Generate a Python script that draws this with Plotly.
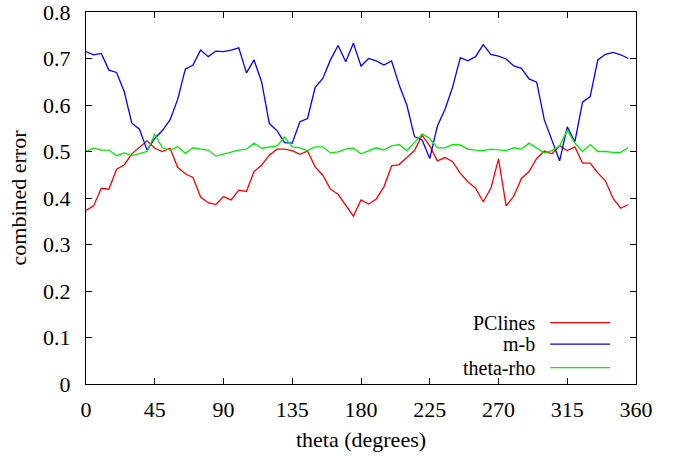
import plotly.graph_objects as go

# angle sampled every 5 degrees
theta = [0, 5, 10, 15, 20, 25, 30, 35, 40, 45, 50, 55, 60, 65, 70, 75, 80, 85,
         90, 95, 100, 105, 110, 115, 120, 125, 130, 135, 140, 145, 150, 155, 160, 165, 170, 175,
         180, 185, 190, 195, 200, 205, 210, 215, 220, 225, 230, 235, 240, 245, 250, 255, 260, 265,
         270, 275, 280, 285, 290, 295, 300, 305, 310, 315, 320, 325, 330, 335, 340, 345, 350, 355]

pclines = [0.373, 0.383, 0.421, 0.419, 0.462, 0.471, 0.495, 0.510, 0.523, 0.507, 0.500, 0.507,
           0.466, 0.452, 0.444, 0.402, 0.390, 0.386, 0.403, 0.396, 0.417, 0.414, 0.457, 0.471,
           0.492, 0.505, 0.505, 0.502, 0.494, 0.501, 0.467, 0.449, 0.419, 0.408, 0.385, 0.361,
           0.396, 0.387, 0.398, 0.424, 0.469, 0.472, 0.487, 0.502, 0.535, 0.512, 0.480, 0.487,
           0.478, 0.453, 0.435, 0.421, 0.392, 0.421, 0.484, 0.383, 0.404, 0.442, 0.457, 0.485,
           0.501, 0.495, 0.512, 0.502, 0.510, 0.475, 0.475, 0.454, 0.437, 0.399, 0.378, 0.386]

mb = [0.715, 0.708, 0.711, 0.675, 0.670, 0.629, 0.561, 0.548, 0.503, 0.528, 0.545, 0.568,
      0.612, 0.677, 0.686, 0.718, 0.704, 0.716, 0.715, 0.718, 0.723, 0.669, 0.697, 0.649,
      0.560, 0.545, 0.519, 0.518, 0.564, 0.571, 0.638, 0.657, 0.697, 0.728, 0.693, 0.733,
      0.684, 0.700, 0.695, 0.686, 0.695, 0.643, 0.600, 0.532, 0.525, 0.485, 0.555, 0.591,
      0.639, 0.702, 0.695, 0.704, 0.730, 0.709, 0.705, 0.699, 0.684, 0.679, 0.656, 0.649,
      0.568, 0.525, 0.480, 0.553, 0.521, 0.606, 0.618, 0.697, 0.709, 0.713, 0.708, 0.700]

theta_rho = [0.500, 0.507, 0.503, 0.503, 0.491, 0.497, 0.491, 0.496, 0.500, 0.537, 0.508, 0.503,
             0.510, 0.496, 0.508, 0.505, 0.503, 0.490, 0.494, 0.498, 0.503, 0.505, 0.518, 0.507,
             0.510, 0.512, 0.531, 0.510, 0.508, 0.502, 0.510, 0.510, 0.497, 0.499, 0.505, 0.507,
             0.495, 0.502, 0.508, 0.503, 0.512, 0.515, 0.502, 0.519, 0.538, 0.528, 0.508, 0.508,
             0.515, 0.514, 0.505, 0.503, 0.502, 0.505, 0.503, 0.502, 0.508, 0.505, 0.518, 0.508,
             0.497, 0.502, 0.512, 0.546, 0.518, 0.500, 0.515, 0.500, 0.500, 0.498, 0.498, 0.508]

names = ['PClines', 'm-b', 'theta-rho']
colors = ['#ff0000', '#0000ff', '#00ee00']
series = [pclines, mb, theta_rho]

xticks = [0, 45, 90, 135, 180, 225, 270, 315, 360]
yticks = [0, 0.1, 0.2, 0.3, 0.4, 0.5, 0.6, 0.7, 0.8]

font = 'Liberation Serif'

fig = go.Figure()
for name, col, vals in zip(names, colors, series):
    fig.add_trace(go.Scatter(x=theta, y=vals, mode='lines', name=name,
                             line=dict(color=col, width=1.3), showlegend=False))

# gnuplot style key: text right-aligned, sample line to its right
key_y = [0.165, 0.107, 0.044]
for name, col, ky in zip(names, colors, key_y):
    fig.add_annotation(x=0.818, y=ky, xref='paper', yref='paper', text=name,
                       showarrow=False, xanchor='right', yanchor='middle', borderpad=0,
                       height=20, valign='middle',
                       font=dict(family=font, size=20, color='black'))
    fig.add_shape(type='line', xref='paper', yref='paper', x0=0.844, x1=0.953,
                  y0=ky, y1=ky, line=dict(color=col, width=1.3))

axis_common = dict(
    showline=True, linecolor='black', linewidth=1, mirror='ticks',
    ticks='inside', ticklen=6, tickcolor='black', showgrid=False, zeroline=False,
    tickfont=dict(family=font, size=22, color='black'), automargin=False,
    ticklabeloverflow='allow',
)

fig.update_layout(
    width=673, height=456,
    paper_bgcolor='white', plot_bgcolor='white',
    font=dict(family=font, size=22, color='black'),
    margin=dict(l=86, r=37, t=12, b=72),
    xaxis=dict(range=[0, 360], tickvals=xticks, ticklabelstandoff=6,
               title=dict(text='theta (degrees)', font=dict(family=font, size=22, color='black'),
                          standoff=10),
               **axis_common),
    yaxis=dict(range=[0, 0.8], tickvals=yticks, ticktext=[f'{v:g}' for v in yticks],
               ticklabelstandoff=10,
               title=dict(text='combined error', font=dict(family=font, size=22, color='black'),
                          standoff=10),
               **axis_common),
)

# drop the default body margin so the figure fills the window
fig.write_html("out.html", config={'displayModeBar': False},
               post_script="document.body.style.margin='0px';")
